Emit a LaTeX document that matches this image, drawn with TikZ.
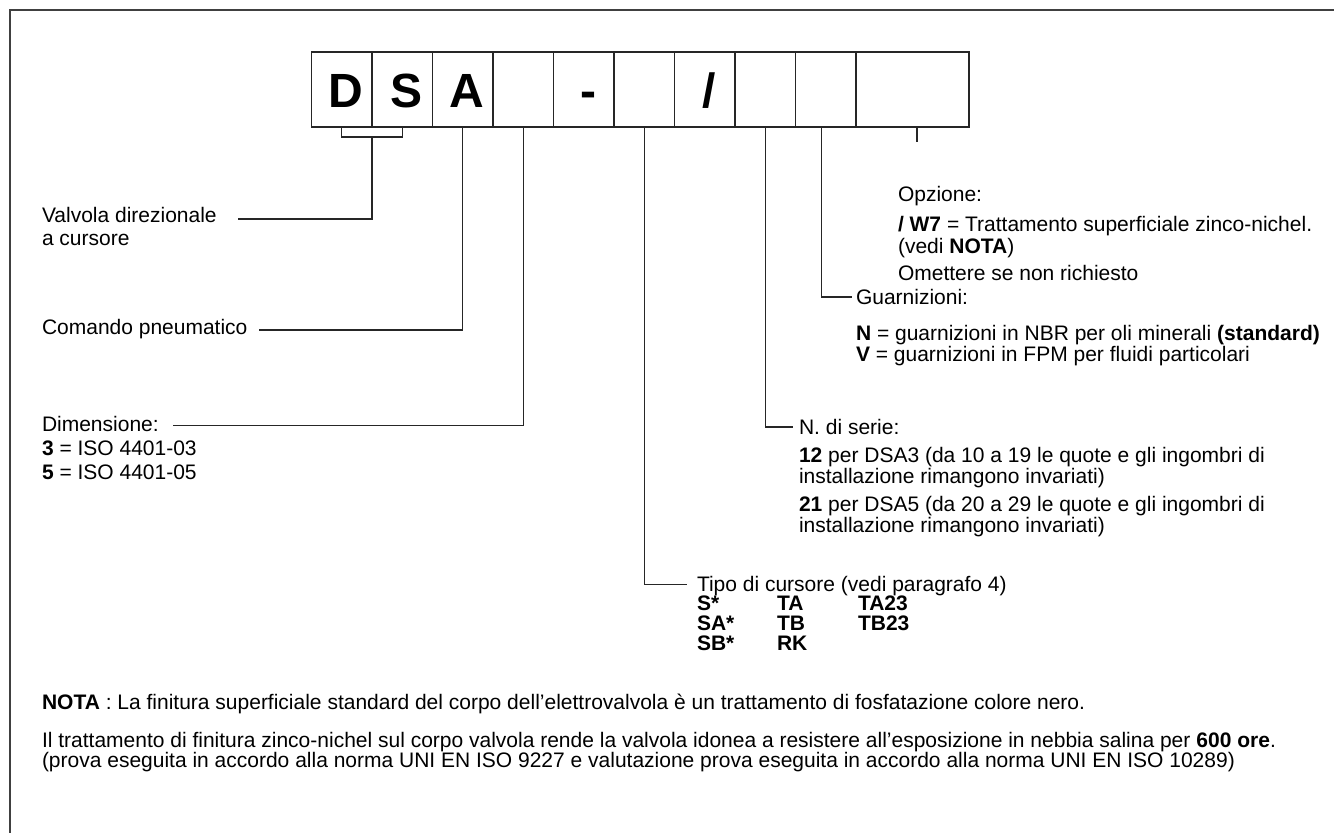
\documentclass[tikz,border=0pt]{standalone}
\usepackage{fontspec}
\setmainfont{Liberation Sans}
\begin{document}
\begin{tikzpicture}[x=1pt,y=-1pt,
  every node/.style={inner sep=0pt,outer sep=0pt},
  cell/.style={draw=black!85,line width=1.1pt,minimum width=60.5pt,minimum height=75pt,anchor=north west,
    text height=35pt,text depth=0pt,font=\fontsize{48}{48}\selectfont\bfseries},
  txt/.style={anchor=base west,font=\fontsize{21}{23}\selectfont},
  conn/.style={draw=black!85,line width=1.1pt},
  frame/.style={draw=black!75,line width=2pt}]
\useasboundingbox (0,0) rectangle (1334,833);
\draw[frame] (10,833) -- (10,10) -- (1334,10);
% code cells
\node[cell] (c1) at (311.5,52) {\hspace*{8pt}D};
\node[cell] (c2) at (372,52) {\hspace*{8pt}S};
\node[cell] (c3) at (432.5,52) {\hspace*{8pt}A};
\node[cell] (c4) at (493,52) {};
\node[cell] (c5) at (553.5,52) {\hspace*{10pt}-};
\node[cell] (c6) at (614,52) {};
\node[cell] (c7) at (674.5,52) {\hspace*{8pt}/};
\node[cell] (c8) at (735,52) {};
\node[cell] (c9) at (795.5,52) {};
\node[cell,minimum width=113pt] (c10) at (856,52) {};
% connector end points
\coordinate (eA) at (238,219);
\coordinate (eB) at (259,330);
\coordinate (eC) at (173,425.5);
\coordinate (eD) at (687,584.5);
\coordinate (eE) at (793,427);
\coordinate (eF) at (852,297);
% connectors
\draw[conn] (c1.south) -- ++(0,10) -| (c2.south);
\draw[conn] (c1.south east) ++(0,10) |- (eA);
\draw[conn] (c3.south) |- (eB);
\draw[conn] (c4.south) |- (eC);
\draw[conn] (c6.south) |- (eD);
\draw[conn] (c8.south) |- (eE);
\draw[conn] ([xshift=-4pt]c9.south) |- (eF);
\draw[conn] ([xshift=4.5pt]c10.south) -- ++(0,15);
% left labels
\node[txt] (valv1) at (42,222) {Valvola direzionale};
\node[txt] (valv2) at (42,245) {a cursore};
\node[txt] (com) at (42,334) {Comando pneumatico};
\node[txt] (dim1) at (42,431) {Dimensione:};
\node[txt] (dim2) at (42,455.5) {\textbf{3} = ISO 4401-03};
\node[txt] (dim3) at (42,479) {\textbf{5} = ISO 4401-05};
% right labels
\node[txt] (op1) at (898,201) {Opzione:};
\node[txt] (op2) at (898,231) {\textbf{/ W7} = Trattamento superficiale zinco-nichel.};
\node[txt] (op3) at (898,253) {(vedi \textbf{NOTA})};
\node[txt] (op4) at (898,280) {Omettere se non richiesto};
\node[txt] (gu1) at (856,304) {Guarnizioni:};
\node[txt] (gu2) at (856,340) {\textbf{N} = guarnizioni in NBR per oli minerali \textbf{(standard)}};
\node[txt] (gu3) at (856,361) {\textbf{V} = guarnizioni in FPM per fluidi particolari};
\node[txt] (se1) at (799,434) {N. di serie:};
\node[txt] (se2) at (799,462) {\textbf{12} per DSA3 (da 10 a 19 le quote e gli ingombri di};
\node[txt] (se3) at (799,483) {installazione rimangono invariati)};
\node[txt] (se4) at (799,511) {\textbf{21} per DSA5 (da 20 a 29 le quote e gli ingombri di};
\node[txt] (se5) at (799,532) {installazione rimangono invariati)};
\node[txt] (ti1) at (697,591) {Tipo di cursore (vedi paragrafo 4)};
\node[txt] (t11) at (697,610) {\textbf{S*}};
\node[txt] (t12) at (777,610) {\textbf{TA}};
\node[txt] (t13) at (858,610) {\textbf{TA23}};
\node[txt] (t21) at (697,630) {\textbf{SA*}};
\node[txt] (t22) at (777,630) {\textbf{TB}};
\node[txt] (t23) at (858,630) {\textbf{TB23}};
\node[txt] (t31) at (697,650) {\textbf{SB*}};
\node[txt] (t32) at (777,650) {\textbf{RK}};
% notes
\node[txt] (n1) at (42,709) {\textbf{NOTA} : La finitura superficiale standard del corpo dell’elettrovalvola è un trattamento di fosfatazione colore nero.};
\node[txt] (n2) at (42,747) {Il trattamento di finitura zinco-nichel sul corpo valvola rende la valvola idonea a resistere all’esposizione in nebbia salina per \textbf{600 ore}.};
\node[txt] (n3) at (42,767) {(prova eseguita in accordo alla norma UNI EN ISO 9227 e valutazione prova eseguita in accordo alla norma UNI EN ISO 10289)};
\end{tikzpicture}
\end{document}
